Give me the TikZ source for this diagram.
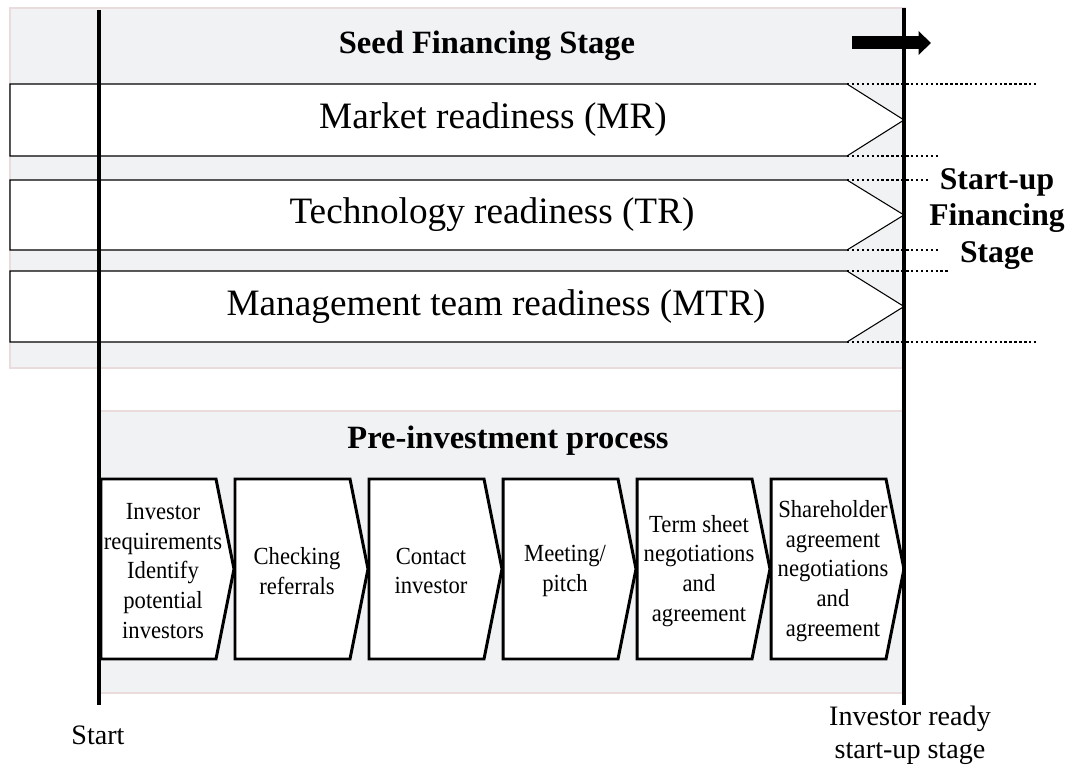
\documentclass[tikz,border=0pt]{standalone}
\usepackage{fontspec}
\setmainfont{Liberation Serif}
\newfontfamily\narrowfont[FakeStretch=0.92]{Liberation Serif}
\usetikzlibrary{arrows.meta}
\definecolor{panelgray}{HTML}{F1F2F4}
\definecolor{panelrim}{HTML}{EADCDC}
\tikzset{stage/.style={draw=panelrim, line width=1.2pt, fill=panelgray},
         bar/.style={draw, line width=0.6pt, fill=white},
         chev/.style={draw, line width=1.7pt, fill=white},
         guide/.style={line width=1.3pt, dash pattern=on 1.4pt off 1.4pt},
         mark line/.style={line width=2.2pt},
         title/.style={align=center, font=\bfseries\fontsize{18.5}{21.5}\selectfont},
         bartext/.style={font=\fontsize{21.2}{24}\selectfont},
         chevtext/.style={align=center, font=\narrowfont\fontsize{14}{17}\selectfont},
         endtext/.style={align=center, font=\fontsize{16}{19}\selectfont}}

\begin{document}
\begin{tikzpicture}[x=0.02cm, y=-0.02cm]
  \useasboundingbox (0,0) rectangle (1068,766);

  % grey panels
  \draw[stage] (10,8) rectangle (905,368);
  \draw[stage] (100,411) rectangle (905,693);

  % readiness bars
  \foreach \t/\b/\c/\name/\txt in {84/156/493/mr/Market readiness (MR),
                                   180/250/492/tr/Technology readiness (TR),
                                   271/342/496/mtr/Management team readiness (MTR)} {
    \draw[bar] (10,\t) -- (847,\t) -- (904,{(\t+\b)/2}) -- (847,\b) -- (10,\b) -- cycle;
    \node[bartext] (\name) at (\c,{(\t+\b)/2}) {\txt};
  }

  % dotted guides
  \draw[guide] (847,84) -- (1037,84)
    (847,156) -- (939,156)
    (847,180) -- (928,180)
    (847,250) -- (938,250)
    (847,271) -- (950,271)
    (847,342) -- (1037,342);

  % chevrons
  \foreach \i/\name/\txt in {0/inv/{Investor\\requirements\\Identify\\potential\\investors},
                             1/chk/{Checking\\referrals},
                             2/con/{Contact\\investor},
                             3/mtg/{Meeting/\\pitch},
                             4/term/{Term sheet\\negotiations\\and\\agreement},
                             5/share/{Shareholder\\agreement\\negotiations\\and\\agreement}} {
    \draw[chev] (101+134*\i,479) -- ++(115,0) -- ++(18,90) -- ++(-18,90) -- ++(-115,0) -- cycle;
    \node[chevtext] (\name) at (163+134*\i,571) {\txt};
  }

  % start and end lines
  \coordinate (s0) at (99,10);
  \coordinate (s1) at (99,705);
  \coordinate (e0) at (904,8);
  \coordinate (e1) at (904,705);
  \draw[mark line] (s0) -- (s1);
  \draw[mark line] (e0) -- (e1);

  % top arrow
  \coordinate (a0) at (852,43);
  \coordinate (a1) at (931,43);
  \draw[line width=7.4pt, -{Triangle[length=7pt, width=13pt]}] (a0) -- (a1);

  % titles and labels
  \node[title] (seed) at (487,46) {Seed Financing Stage};
  \node[title] (pre) at (508,441) {Pre-investment process};
  \node[title, font=\bfseries\fontsize{18}{21}\selectfont] (startup) at (997,219)
    {Start-up\\Financing\\Stage};
  \node[endtext] (start) at (98,735) {Start};
  \node[endtext] (ready) at (910,735) {Investor ready\\start-up stage};
\end{tikzpicture}
\end{document}
